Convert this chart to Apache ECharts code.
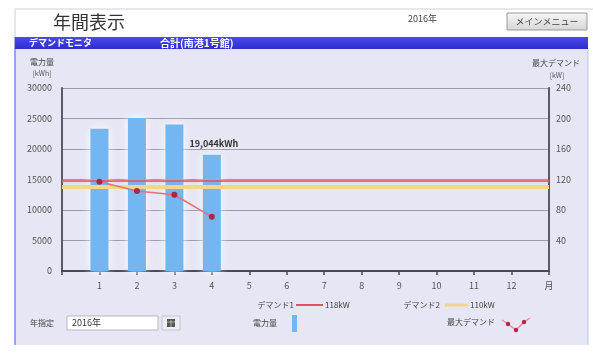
<!DOCTYPE html>
<html>
<head>
<meta charset="utf-8">
<title>年間表示</title>
<script src="https://cdn.jsdelivr.net/npm/echarts@6/dist/echarts.min.js"></script>
<style>
  html, body { margin: 0; padding: 0; background: #ffffff; }
  #chart { width: 593px; height: 353px; }
</style>
</head>
<body>
<div id="chart"></div>
<script>
// Months shown on the x axis (value axis 0..13, 13 is drawn as "月")
const months = [1, 2, 3, 4, 5, 6, 7, 8, 9, 10, 11, 12];
// Monthly energy consumption [kWh] (only Jan–Apr recorded so far)
const energyKWh = [23300, 25100, 24000, 19044];
// Monthly maximum demand [kW]
const maxDemandKW = [117, 105, 100, 71];
// Demand thresholds [kW]: デマンド1, デマンド2
const demandLimits = [118, 110];
// Axis tick settings
const energyTicks = { min: 0, max: 30000, interval: 5000 };
const demandTicks = { min: 0, max: 240, interval: 40 };

const FONT = '"Noto Sans CJK JP", "Noto Sans", sans-serif';
const PANEL = '#e6e6f4';
const BAR = '#74b6ef';
const RED = '#e0505e';
const YELLOW = '#f2d68c';

const chart = echarts.init(document.getElementById('chart'), null, { renderer: 'canvas' });

const barData = energyKWh.map((v, i) => {
  const item = { value: [months[i], v] };
  if (i === energyKWh.length - 1) {
    item.label = {
      show: true,
      position: 'top',
      distance: 7,
      offset: [2, 0],
      formatter: p => p.value[1].toLocaleString('en-US') + 'kWh',
      fontFamily: FONT,
      fontSize: 9,
      fontWeight: 'bold',
      color: '#333'
    };
  }
  return item;
});

const txt = (x, y, text, opt) => Object.assign({
  type: 'text', x, y,
  style: Object.assign({ text, fontFamily: FONT, fontSize: 9, fill: '#333', textVerticalAlign: 'middle' }, opt || {})
});

chart.setOption({
  backgroundColor: '#ffffff',
  animation: false,
  textStyle: { fontFamily: FONT },
  grid: { left: 62, right: 44, top: 88, bottom: 82, containLabel: false },
  xAxis: {
    type: 'value', min: 0, max: 13, interval: 1,
    axisLine: { show: true, lineStyle: { color: '#4a4a55', width: 2 } },
    axisTick: { show: true, length: 4, lineStyle: { color: '#4a4a55', width: 1.5 } },
    axisLabel: {
      margin: 10, fontSize: 9, color: '#555',
      formatter: v => (v === 0 ? '' : v === 13 ? '月' : String(v))
    },
    splitLine: { show: false }
  },
  yAxis: [
    {
      type: 'value', min: energyTicks.min, max: energyTicks.max, interval: energyTicks.interval,
      axisLine: { show: true, lineStyle: { color: '#5a5a66', width: 2 } },
      axisTick: { show: false },
      axisLabel: { margin: 10, fontSize: 9, color: '#555', formatter: v => String(v) },
      splitLine: { show: true, lineStyle: { color: '#9c9cae', width: 1 } }
    },
    {
      type: 'value', min: demandTicks.min, max: demandTicks.max, interval: demandTicks.interval,
      position: 'right',
      axisLine: { show: true, lineStyle: { color: '#5a5a66', width: 2 } },
      axisTick: { show: false },
      axisLabel: { margin: 7, fontSize: 9, color: '#555', formatter: v => (v === 0 ? '' : String(v)) },
      splitLine: { show: false }
    }
  ],
  series: [
    {
      name: '電力量',
      type: 'bar',
      yAxisIndex: 0,
      barWidth: 18,
      data: barData,
      itemStyle: {
        color: BAR,
        shadowColor: 'rgba(255,255,255,0.95)',
        shadowBlur: 8
      },
      z: 2
    },
    {
      name: 'デマンド閾値',
      type: 'line',
      yAxisIndex: 1,
      data: [],
      markLine: {
        silent: true,
        symbol: 'none',
        label: { show: false },
        data: [
          { yAxis: demandLimits[1], lineStyle: { color: YELLOW, width: 4, type: 'solid' } },
          { yAxis: demandLimits[0], lineStyle: { color: RED, width: 1.5, type: 'solid', shadowColor: 'rgba(240,150,160,0.7)', shadowBlur: 3 } }
        ]
      },
      z: 3
    },
    {
      name: '最大デマンド',
      type: 'line',
      yAxisIndex: 1,
      data: maxDemandKW.map((v, i) => [months[i], v]),
      symbol: 'circle',
      symbolSize: 6,
      lineStyle: { color: '#e8707e', width: 1.5 },
      itemStyle: { color: '#a82848' },
      z: 5
    }
  ],
  graphic: [
    // header frame
    { type: 'line', shape: { x1: 15, y1: 9, x2: 593, y2: 9 }, style: { stroke: '#d0d0d8', lineWidth: 1 } },
    { type: 'line', shape: { x1: 15, y1: 9, x2: 15, y2: 37 }, style: { stroke: '#d0d0d8', lineWidth: 1 } },
    txt(53, 22, '年間表示', { fontSize: 18, fill: '#333333' }),
    txt(408, 19, '2016年', { fontSize: 9, fill: '#444' }),
    {
      type: 'rect', shape: { x: 507, y: 13, width: 80, height: 17 },
      style: {
        fill: new echarts.graphic.LinearGradient(0, 0, 0, 1, [
          { offset: 0, color: '#f6f6f6' }, { offset: 1, color: '#d6d6d6' }
        ]),
        stroke: '#9a9a9a', lineWidth: 1
      }
    },
    txt(547, 21.5, 'メインメニュー', { fontSize: 9, fill: '#444', textAlign: 'center' }),
    // panel and banner
    { type: 'rect', shape: { x: 15, y: 49, width: 573, height: 296 }, style: { fill: PANEL }, z: -10 },
    { type: 'line', shape: { x1: 15, y1: 37, x2: 15, y2: 345 }, style: { stroke: '#7a8ee0', lineWidth: 1.5 }, z: -9 },
    { type: 'line', shape: { x1: 588, y1: 49, x2: 588, y2: 345 }, style: { stroke: '#b8c4ee', lineWidth: 1 }, z: -9 },
    {
      type: 'rect', shape: { x: 15, y: 37, width: 573, height: 12 },
      style: {
        fill: new echarts.graphic.LinearGradient(0, 0, 0, 1, [
          { offset: 0, color: '#4a4ae6' }, { offset: 1, color: '#2e2ed0' }
        ])
      }
    },
    txt(29, 43, 'デマンドモニタ', { fontSize: 9, fontWeight: 'bold', fill: '#ffffff' }),
    txt(160, 43, '合計(南港1号館)', { fontSize: 10, fontWeight: 'bold', fill: '#ffffff' }),
    // axis titles
    txt(42, 62, '電力量', { fontSize: 8, fill: '#444', textAlign: 'center' }),
    txt(42, 73, '[kWh]', { fontSize: 7, fill: '#555', textAlign: 'center' }),
    txt(580, 63, '最大デマンド', { fontSize: 8, fill: '#444', textAlign: 'right' }),
    txt(557, 75, '[kW]', { fontSize: 7, fill: '#555', textAlign: 'center' }),
    // threshold legend
    txt(294, 305, 'デマンド1', { fontSize: 8, fill: '#444', textAlign: 'right' }),
    { type: 'line', shape: { x1: 296, y1: 305, x2: 323, y2: 305 }, style: { stroke: RED, lineWidth: 2 } },
    txt(325, 305, demandLimits[0] + 'kW', { fontSize: 8, fill: '#444' }),
    txt(440, 305, 'デマンド2', { fontSize: 8, fill: '#444', textAlign: 'right' }),
    { type: 'line', shape: { x1: 445, y1: 305, x2: 468, y2: 305 }, style: { stroke: YELLOW, lineWidth: 3 } },
    txt(470, 305, demandLimits[1] + 'kW', { fontSize: 8, fill: '#444' }),
    // year selector
    txt(30, 323, '年指定', { fontSize: 8, fill: '#444' }),
    { type: 'rect', shape: { x: 67, y: 316, width: 91, height: 14 }, style: { fill: '#ffffff', stroke: '#b8b8c4', lineWidth: 1 } },
    txt(72, 323, '2016年', { fontSize: 9, fill: '#333' }),
    { type: 'rect', shape: { x: 162, y: 316, width: 18, height: 14 }, style: { fill: '#ededf4', stroke: '#c4c4d0', lineWidth: 1 } },
    { type: 'rect', shape: { x: 167, y: 319, width: 8, height: 8 }, style: { fill: '#555' } },
    { type: 'line', shape: { x1: 167, y1: 322, x2: 175, y2: 322 }, style: { stroke: '#ccc', lineWidth: 0.8 } },
    { type: 'line', shape: { x1: 171, y1: 320, x2: 171, y2: 327 }, style: { stroke: '#ccc', lineWidth: 0.8 } },
    // series legend
    txt(253, 323, '電力量', { fontSize: 8, fill: '#444' }),
    { type: 'rect', shape: { x: 292, y: 315, width: 5, height: 17 }, style: { fill: BAR } },
    txt(447, 322, '最大デマンド', { fontSize: 8, fill: '#444' }),
    { type: 'polyline', shape: { points: [[502, 320], [508, 324], [516, 330], [524, 322], [530, 318]] }, style: { stroke: '#f08a98', lineWidth: 1.5, fill: null } },
    { type: 'circle', shape: { cx: 508, cy: 324, r: 2.2 }, style: { fill: '#b02848' } },
    { type: 'circle', shape: { cx: 516, cy: 330, r: 2.2 }, style: { fill: '#b02848' } },
    { type: 'circle', shape: { cx: 524, cy: 322, r: 2.2 }, style: { fill: '#b02848' } }
  ]
});
</script>
</body>
</html>
